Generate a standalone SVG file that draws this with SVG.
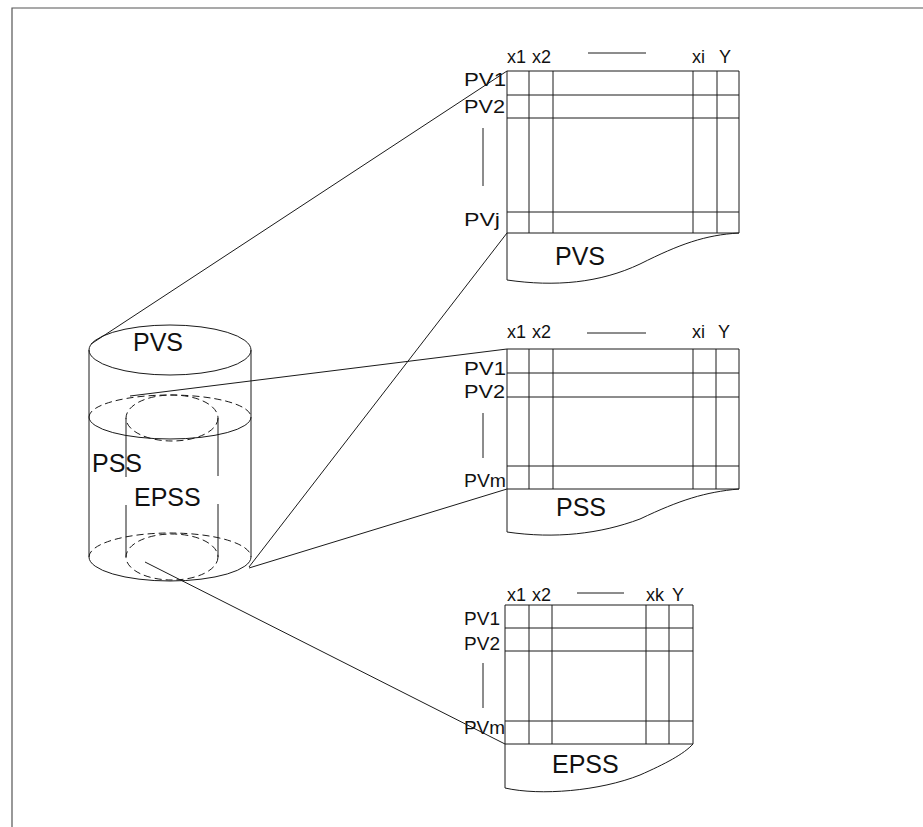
<svg xmlns="http://www.w3.org/2000/svg" width="923" height="827" viewBox="0 0 923 827">
<style>
  .ln{stroke:#1a1a1a;stroke-width:1;fill:none}
  .dash{stroke:#1a1a1a;stroke-width:1;fill:none;stroke-dasharray:7 4}
  .frame{stroke:#555;stroke-width:1.2;fill:none}
  .t{font-family:"Liberation Sans",Arial,sans-serif;fill:#111}
  .s{font-size:18px}
  .b{font-size:25px}
</style>
<rect x="0" y="0" width="923" height="827" fill="#fff"/>
<path class="frame" d="M12,827 L12,8 L923,8"/>

<g id="cylinder">
  <ellipse class="ln" cx="170" cy="350" rx="81" ry="25"/>
  <line class="ln" x1="89" y1="350" x2="89" y2="557"/>
  <line class="ln" x1="251" y1="350" x2="251" y2="557"/>
  <path class="dash" d="M89,417 A81,22 0 0 1 251,417"/>
  <path class="ln" d="M89,417 A81,22 0 0 0 251,417"/>
  <path class="dash" d="M89,557 A81,24 0 0 1 251,557"/>
  <path class="ln" d="M89,557 A81,24 0 0 0 251,557"/>
  <ellipse class="dash" cx="172" cy="418" rx="46" ry="23"/>
  <ellipse class="dash" cx="172" cy="557" rx="46" ry="23"/>
  <line class="ln" x1="126" y1="418" x2="126" y2="477"/>
  <line class="ln" x1="126" y1="505" x2="126" y2="557"/>
  <line class="ln" x1="218" y1="418" x2="218" y2="476"/>
  <line class="ln" x1="218" y1="504" x2="218" y2="557"/>
  <text class="t b" x="133" y="351">PVS</text>
  <text class="t b" x="92" y="472">PSS</text>
  <text class="t b" x="134" y="506">EPSS</text>
</g>

<g id="table-pvs">
  <path class="ln" d="M507,71 L739,71 L739,233 L507,233 Z"/>
  <line class="ln" x1="507" y1="95" x2="739" y2="95"/>
  <line class="ln" x1="507" y1="118" x2="739" y2="118"/>
  <line class="ln" x1="507" y1="212" x2="739" y2="212"/>
  <line class="ln" x1="529" y1="71" x2="529" y2="233"/>
  <line class="ln" x1="553" y1="71" x2="553" y2="233"/>
  <line class="ln" x1="693" y1="71" x2="693" y2="233"/>
  <line class="ln" x1="717" y1="71" x2="717" y2="233"/>
  <path class="ln" d="M507,233 L507,280 C555,287 600,283 640,264 C680,244 705,235 739,233"/>
  <text class="t s" x="507" y="63">x1</text>
  <text class="t s" x="532" y="63">x2</text>
  <line class="ln" x1="588" y1="53" x2="646" y2="53"/>
  <text class="t s" x="692" y="63">xi</text>
  <text class="t s" x="719" y="63">Y</text>
  <text class="t s" x="464" y="86" textLength="42" lengthAdjust="spacingAndGlyphs">PV1</text>
  <text class="t s" x="464" y="113" textLength="41" lengthAdjust="spacingAndGlyphs">PV2</text>
  <line class="ln" x1="483" y1="128" x2="483" y2="186"/>
  <text class="t s" x="464" y="226" textLength="36" lengthAdjust="spacingAndGlyphs">PVj</text>
  <text class="t b" x="555" y="265">PVS</text>
</g>

<g id="table-pss">
  <path class="ln" d="M507,349 L739,349 L739,489 L507,489 Z"/>
  <line class="ln" x1="507" y1="373" x2="739" y2="373"/>
  <line class="ln" x1="507" y1="397" x2="739" y2="397"/>
  <line class="ln" x1="507" y1="466" x2="739" y2="466"/>
  <line class="ln" x1="529" y1="349" x2="529" y2="489"/>
  <line class="ln" x1="553" y1="349" x2="553" y2="489"/>
  <line class="ln" x1="693" y1="349" x2="693" y2="489"/>
  <line class="ln" x1="716" y1="349" x2="716" y2="489"/>
  <path class="ln" d="M507,489 L507,532 C555,539 600,534 640,519 C680,500 705,492 739,489"/>
  <text class="t s" x="507" y="338">x1</text>
  <text class="t s" x="532" y="338">x2</text>
  <line class="ln" x1="587" y1="333" x2="646" y2="333"/>
  <text class="t s" x="692" y="338">xi</text>
  <text class="t s" x="718" y="338">Y</text>
  <text class="t s" x="464" y="375" textLength="42" lengthAdjust="spacingAndGlyphs">PV1</text>
  <text class="t s" x="464" y="398" textLength="41" lengthAdjust="spacingAndGlyphs">PV2</text>
  <line class="ln" x1="483" y1="413" x2="483" y2="458"/>
  <text class="t s" x="464" y="487" textLength="42" lengthAdjust="spacingAndGlyphs">PVm</text>
  <text class="t b" x="556" y="516">PSS</text>
</g>

<g id="table-epss">
  <path class="ln" d="M505,605 L693,605 L693,744 L505,744 Z"/>
  <line class="ln" x1="505" y1="628" x2="693" y2="628"/>
  <line class="ln" x1="505" y1="651" x2="693" y2="651"/>
  <line class="ln" x1="505" y1="721" x2="693" y2="721"/>
  <line class="ln" x1="529" y1="605" x2="529" y2="744"/>
  <line class="ln" x1="552" y1="605" x2="552" y2="744"/>
  <line class="ln" x1="646" y1="605" x2="646" y2="744"/>
  <line class="ln" x1="669" y1="605" x2="669" y2="744"/>
  <path class="ln" d="M505,744 L505,788 C540,796 600,791 640,775 C665,764 684,754 693,744"/>
  <text class="t s" x="507" y="601">x1</text>
  <text class="t s" x="532" y="601">x2</text>
  <line class="ln" x1="577" y1="593" x2="624" y2="593"/>
  <text class="t s" x="646" y="601">xk</text>
  <text class="t s" x="672" y="601">Y</text>
  <text class="t s" x="464" y="625" textLength="36" lengthAdjust="spacingAndGlyphs">PV1</text>
  <text class="t s" x="464" y="650" textLength="36" lengthAdjust="spacingAndGlyphs">PV2</text>
  <line class="ln" x1="483" y1="663" x2="483" y2="708"/>
  <text class="t s" x="464" y="734" textLength="41" lengthAdjust="spacingAndGlyphs">PVm</text>
  <text class="t b" x="552" y="773">EPSS</text>
</g>

<g id="connectors">
  <line class="ln" x1="91" y1="344" x2="507" y2="71"/>
  <line class="ln" x1="249" y1="567" x2="507" y2="233"/>
  <line class="ln" x1="130" y1="396" x2="507" y2="349"/>
  <line class="ln" x1="249" y1="568" x2="507" y2="489"/>
  <line class="ln" x1="145" y1="562" x2="505" y2="744"/>
</g>
</svg>
